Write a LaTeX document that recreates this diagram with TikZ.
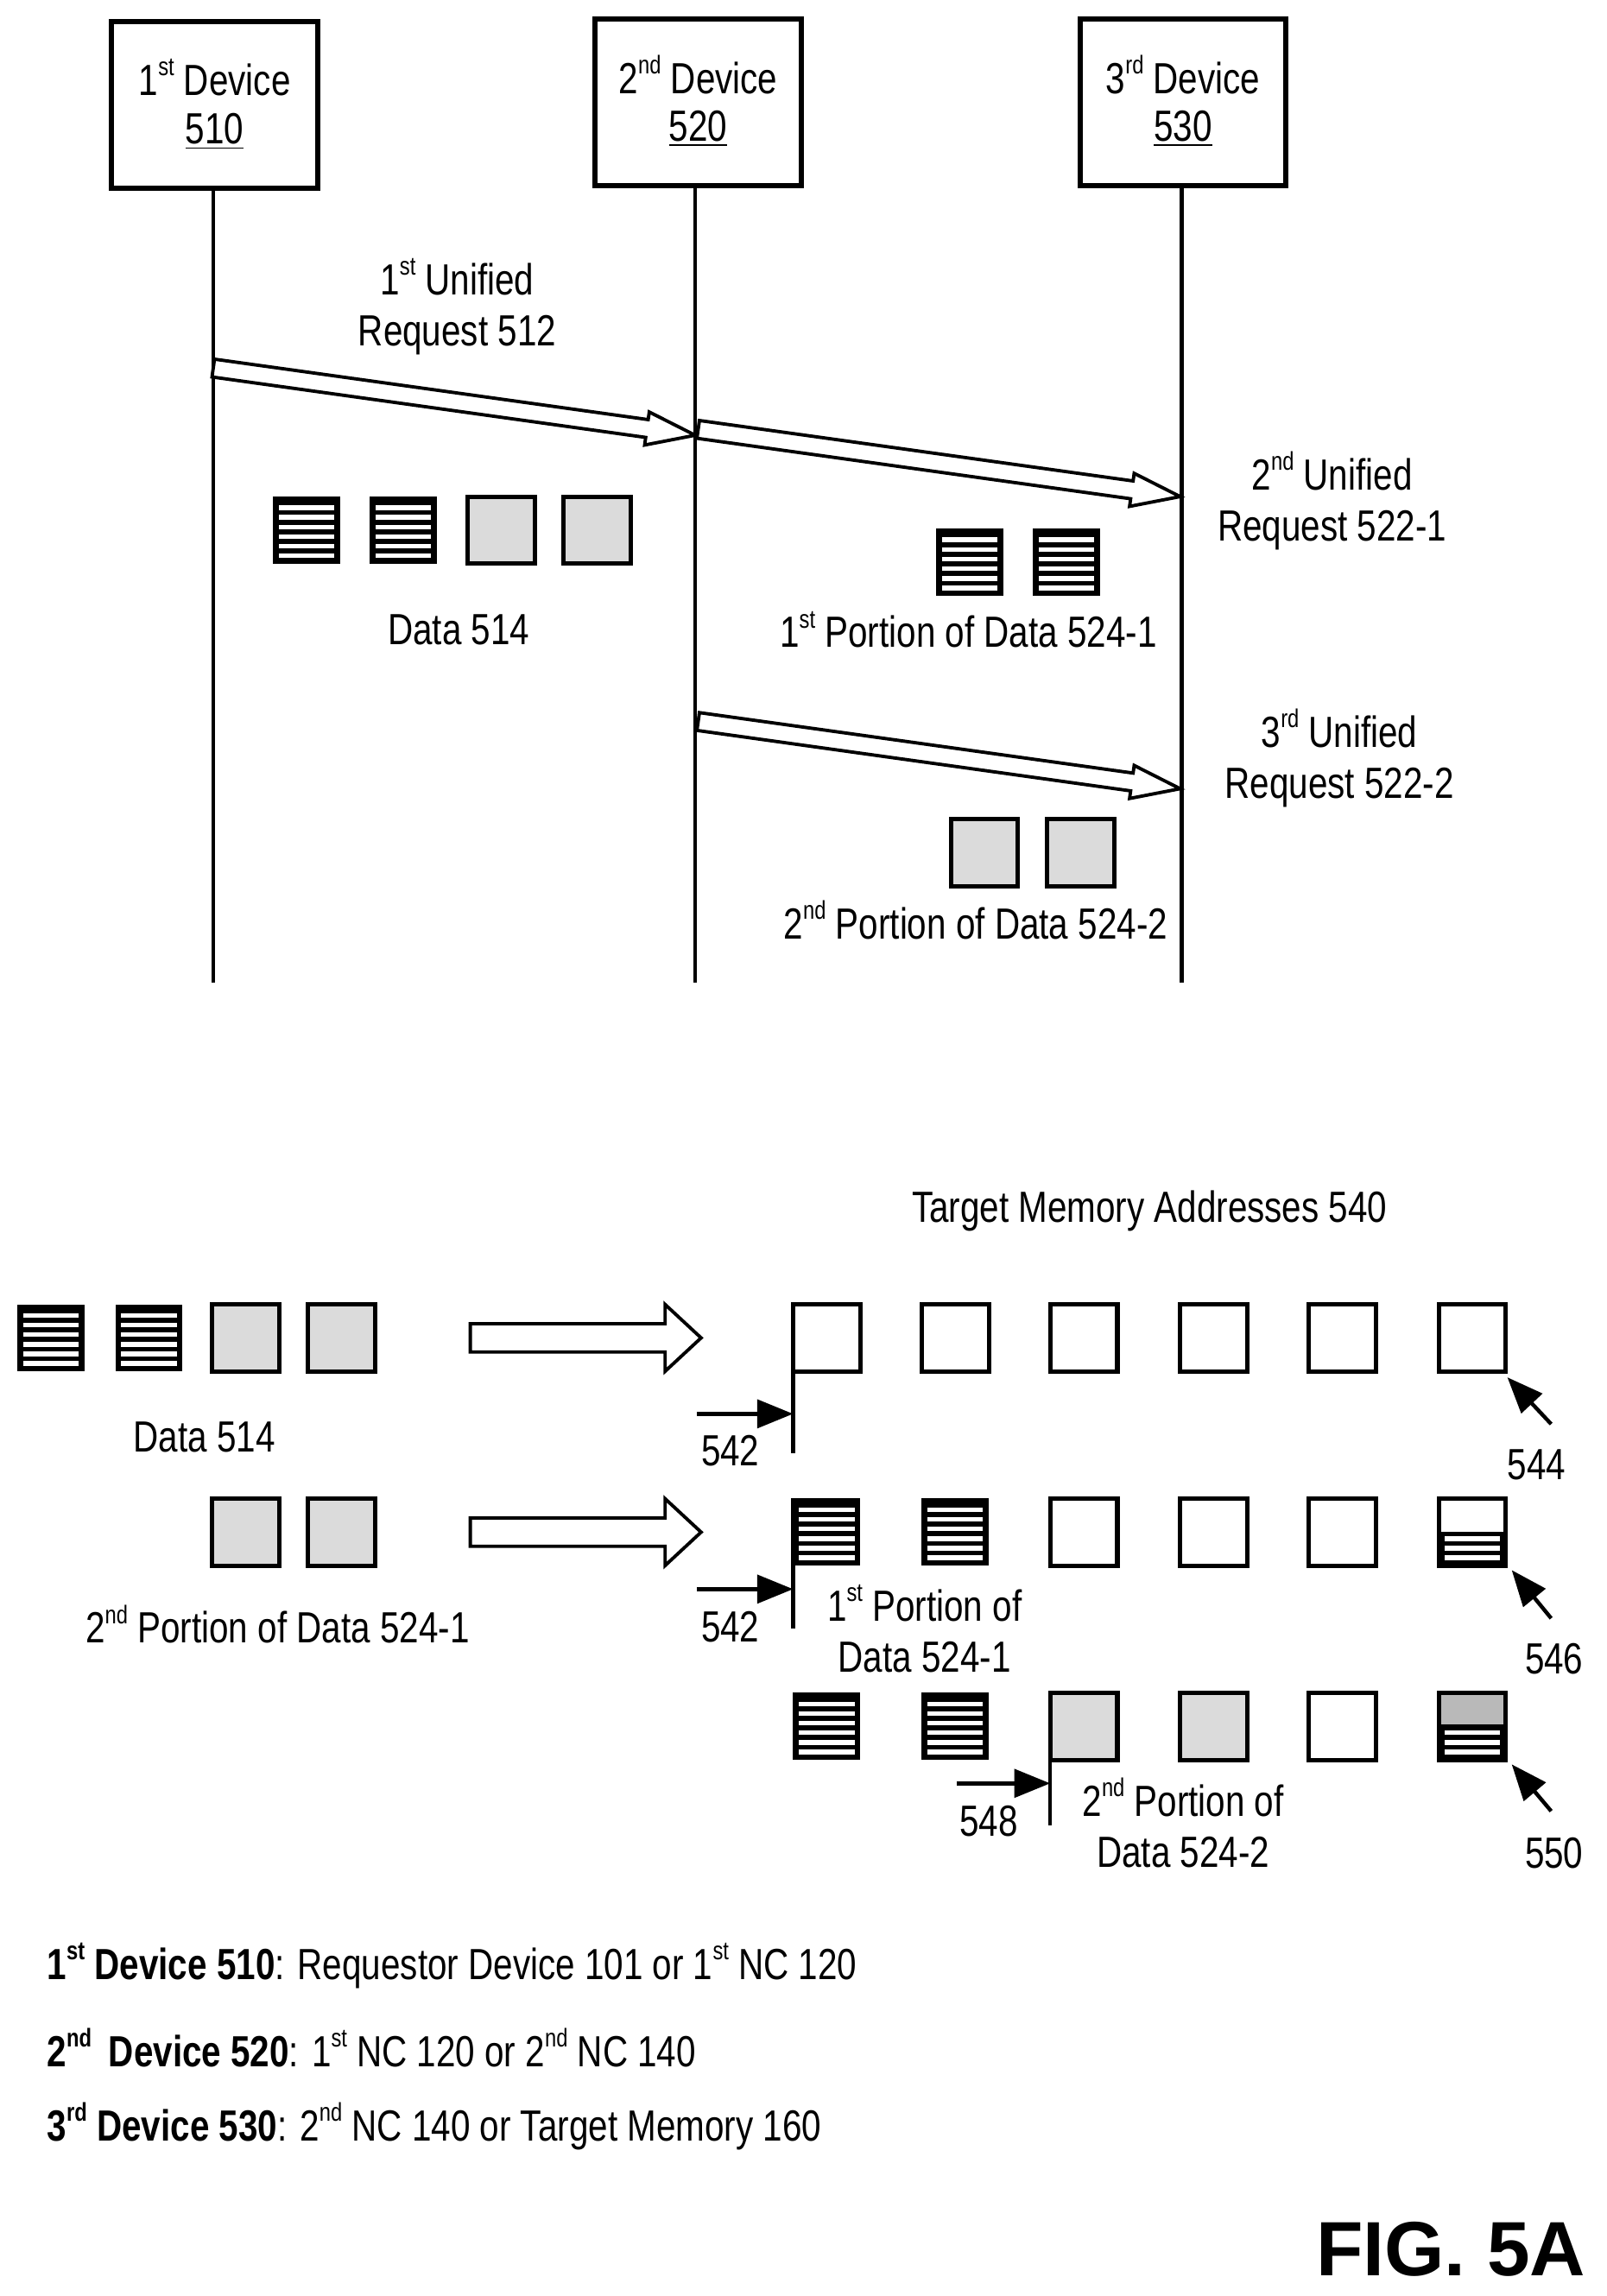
\documentclass[tikz,border=0pt]{standalone}
\usepackage{fontspec}
\setmainfont{Liberation Sans}[FakeStretch=0.8]
\usetikzlibrary{calc,arrows.meta}
\newcommand\su[1]{\raisebox{0.45em}{\fontsize{10}{10}\selectfont #1}}
\newcommand\stripebox[2]{%
  \fill[black] (#1,#2) rectangle ++(46,46);
  \foreach \k in {0,...,5}{\fill[white] ({#1+4},{#2+6+\k*6.6}) rectangle ++(38,3.2);}}
\newcommand\lightbox[2]{\draw[bx,fill=gray!28] (#1,#2) rectangle ++(46,46);}
\newcommand\emptybox[2]{\draw[bx] (#1,#2) rectangle ++(46,46);}
\newcommand\barrow[5]{% start end halfshaft halfhead headlen (pt)
  \draw[line width=1.3pt,fill=white,line join=miter] let \p1=(#1),\p2=(#2),
   \n1={atan2(\y2-\y1,\x2-\x1)},\n2={veclen(\x2-\x1,\y2-\y1)} in
   [shift={(\p1)},rotate=\n1] (0pt,#3pt) -- ({(\n2-#5)*1pt},#3pt) -- ({(\n2-#5)*1pt},#4pt)
   -- ({\n2*1pt},0pt) -- ({(\n2-#5)*1pt},-#4pt) -- ({(\n2-#5)*1pt},-#3pt) -- (0pt,-#3pt) -- cycle;}
\begin{document}
\begin{tikzpicture}[x=0.02cm,y=-0.02cm,
  bx/.style={line width=1.7pt},
  t/.style={font=\fontsize{17}{21}\selectfont,align=center,inner sep=0pt},
  dev/.style={draw,line width=2pt,minimum width=141*0.02cm,minimum height=114*0.02cm,inner sep=0pt},
  pt/.style={-{Triangle[length=14pt,width=11pt]},line width=1.5pt}]
\useasboundingbox (0,0) rectangle (1100,1572);
% devices
\node[dev] (d1) at (147,72) {};
\node[dev] (d2) at (478,70) {};
\node[dev] (d3) at (810,70) {};
\node[t] at (147,53) {1\su{st} Device};
\node[t] at (147,90) {\underline{510}};
\node[t] at (478,51) {2\su{nd} Device};
\node[t] at (478,88) {\underline{520}};
\node[t] at (810,51) {3\su{rd} Device};
\node[t] at (810,88) {\underline{530}};
\coordinate (e1) at (146,673); \coordinate (e2) at (476,673); \coordinate (e3) at (809,673);
\draw[line width=1.5pt] (d1.south -| e1) -- (e1);
\draw[line width=1.5pt] (d2.south -| e2) -- (e2);
\draw[line width=1.5pt] (d3.south -| e3) -- (e3);
% arrows
\coordinate (a1s) at (146,252); \coordinate (a1e) at (476,298);
\coordinate (a2s) at (478,294); \coordinate (a2e) at (808,340);
\coordinate (a3s) at (478,494); \coordinate (a3e) at (808,540);
\barrow{a1s}{a1e}{3.5}{6.5}{19}
\barrow{a2s}{a2e}{3.5}{6.5}{19}
\barrow{a3s}{a3e}{3.5}{6.5}{19}
\node[t] at (313,210) {1\su{st} Unified\\[-1pt]Request 512};
\node[t] at (912,343) {2\su{nd} Unified\\[-1pt]Request 522-1};
\node[t] at (917,519) {3\su{rd} Unified\\[-1pt]Request 522-2};
\stripebox{187}{340}\stripebox{253}{340}\lightbox{320}{340}\lightbox{386}{340}
\node[t] at (314,431) {Data 514};
\stripebox{641}{362}\stripebox{707}{362}
\node[t] at (663,431) {1\su{st} Portion of Data 524-1};
\lightbox{651}{561}\lightbox{717}{561}
\node[t] at (668,630) {2\su{nd} Portion of Data 524-2};
% lower
\node[t] at (787,829) {Target Memory Addresses 540};
\stripebox{12}{893}\stripebox{79}{893}\lightbox{145}{893}\lightbox{211}{893}
\node[t] at (140,984) {Data 514};
\coordinate (b1s) at (322,916); \coordinate (b1e) at (480,916);
\barrow{b1s}{b1e}{5.5}{13}{14}
\foreach \x in {543,631,719,808,896,985}{\emptybox{\x}{893}}
\coordinate (f1) at (543,995); \draw[line width=1.5pt] (543,893) -- (f1);
\coordinate (p1) at (477,968); \draw[pt] (p1) -- (p1 -| f1);
\node[t] at (500,993) {542};
\coordinate (q1) at (1062,975); \coordinate (r1) at (1032,943); \draw[pt] (q1) -- (r1);
\node[t] at (1052,1003) {544};
% row 2
\lightbox{145}{1026}\lightbox{211}{1026}
\node[t] at (190,1112) {2\su{nd} Portion of Data 524-1};
\coordinate (b2s) at (322,1049); \coordinate (b2e) at (480,1049);
\barrow{b2s}{b2e}{5.5}{13}{14}
\stripebox{543}{1026}\stripebox{631}{1026}
\foreach \x in {719,808,896,985}{\emptybox{\x}{1026}}
\begin{scope}
\clip (985,1049) rectangle ++(46,23);
\stripebox{985}{1026}
\end{scope}
\emptybox{985}{1026}
\coordinate (f2) at (543,1115); \draw[line width=1.5pt] (543,1026) -- (f2);
\coordinate (p2) at (477,1088); \draw[pt] (p2) -- (p2 -| f2);
\node[t] at (500,1114) {542};
\node[t] at (633,1115) {1\su{st} Portion of\\[-1pt]Data 524-1};
\coordinate (q2) at (1062,1108); \coordinate (r2) at (1035,1075); \draw[pt] (q2) -- (r2);
\node[t] at (1064,1136) {546};
% row 3
\stripebox{543}{1159}\stripebox{631}{1159}\lightbox{719}{1159}\lightbox{808}{1159}\emptybox{896}{1159}
\begin{scope}
\clip (985,1182) rectangle ++(46,23);
\stripebox{985}{1159}
\end{scope}
\fill[gray!55] (985,1159) rectangle ++(46,23);
\draw[bx] (985,1182) -- ++(46,0);
\emptybox{985}{1159}
\coordinate (f3) at (719,1250); \draw[line width=1.5pt] (719,1159) -- (f3);
\coordinate (p3) at (655,1221); \draw[pt] (p3) -- (p3 -| f3);
\node[t] at (677,1247) {548};
\node[t] at (810,1248) {2\su{nd} Portion of\\[-1pt]Data 524-2};
\coordinate (q3) at (1062,1240); \coordinate (r3) at (1035,1208); \draw[pt] (q3) -- (r3);
\node[t] at (1064,1269) {550};
% legend
\node[t,anchor=west] at (32,1346) {\textbf{1\su{st} Device 510}: Requestor Device 101 or 1\su{st} NC 120};
\node[t,anchor=west] at (32,1402) {\textbf{2\su{nd}\, Device 520}: 1\su{st} NC 120 or 2\su{nd} NC 140};
\node[t,anchor=west] at (32,1456) {\textbf{3\su{rd} Device 530}: 2\su{nd} NC 140 or Target Memory 160};
\node[inner sep=0pt,anchor=east,font=\fontsize{30}{34}\selectfont\bfseries\addfontfeature{FakeStretch=1.0}] at (1086,1540) {FIG. 5A};
\end{tikzpicture}
\end{document}
